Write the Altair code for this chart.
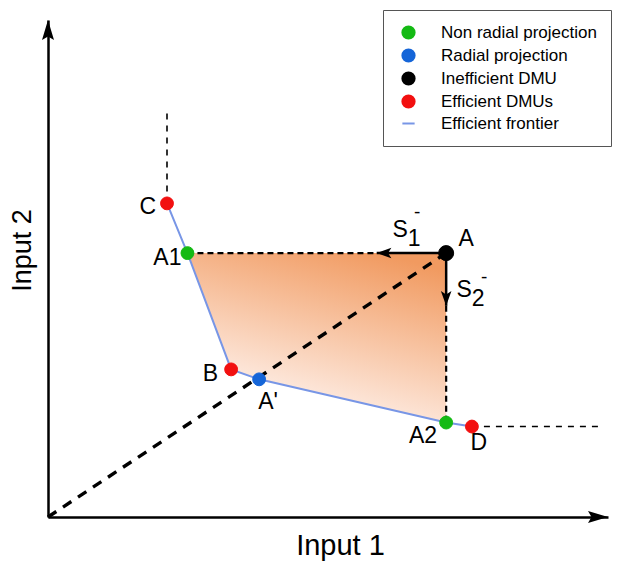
import altair as alt
import pandas as pd

FONT = "Liberation Sans"

# DMUs and projections: (Input 1, Input 2)
names = ["C", "A1", "B", "A'", "A2", "D", "A"]
input1 = [2.125, 2.49, 3.27, 3.77, 7.11, 7.57, 7.11]
input2 = [6.31, 5.31, 2.97, 2.77, 1.90, 1.82, 5.31]
kinds = ["Efficient DMUs", "Non radial projection", "Efficient DMUs", "Radial projection",
         "Non radial projection", "Efficient DMUs", "Inefficient DMU"]

legend_labels = ["Non radial projection", "Radial projection", "Inefficient DMU",
                 "Efficient DMUs", "Efficient frontier"]
legend_colors = ["#14BA14", "#1565D8", "#000000", "#F21010", "#7896E6"]
legend_shapes = ["circle", "circle", "circle", "circle", "stroke"]

frontier = ["C", "A1", "B", "A'", "A2", "D"]
shaded_lower = ["A1", "B", "A'", "A2"]
c_extension_top = 8.13
d_extension_right = 9.82
s1_tip = 5.87
s2_tip = 4.25
axis_max = 10

def pt(n):
    i = names.index(n)
    return input1[i], input2[i]

ax, ay = pt("A")

xscale = alt.Scale(domain=[0, axis_max], nice=False, zero=False)
yscale = alt.Scale(domain=[0, axis_max], nice=False, zero=False)
xaxis = alt.Axis(title="Input 1", titleFont=FONT, titleFontSize=29, titleFontWeight="normal",
                 titleColor="black", titleX=292, titleY=37, titleBaseline="alphabetic",
                 titleAlign="center", titleAngle=0, domainColor="black", domainWidth=2.5,
                 ticks=False, labels=False, grid=False)
yaxis = alt.Axis(title="Input 2", titleFont=FONT, titleFontSize=27, titleFontWeight="normal",
                 titleColor="black", titleX=-18, titleY=230, titleBaseline="alphabetic",
                 titleAlign="center", titleAngle=270, domainColor="black", domainWidth=2.5,
                 ticks=False, labels=False, grid=False)

def X(f):
    return alt.X(f, type="quantitative", scale=xscale, axis=xaxis)

def Y(f):
    return alt.Y(f, type="quantitative", scale=yscale, axis=yaxis)

# shaded region between the frontier and the non-radial projections of A
area_df = pd.DataFrame({"x": [pt(n)[0] for n in shaded_lower],
                        "top": [ay] * len(shaded_lower),
                        "bottom": [pt(n)[1] for n in shaded_lower]})
grad = alt.LinearGradient(gradient="linear", x1=0.75, y1=0, x2=0.35, y2=0.95,
                          stops=[alt.GradientStop(color="#F19A60", offset=0),
                                 alt.GradientStop(color="#FFF5F1", offset=1)])
area = alt.Chart(area_df).mark_area(color=grad, interpolate="linear").encode(
    x=X("x"), y=Y("top"), y2="bottom")

front_df = pd.DataFrame({"x": [pt(n)[0] for n in frontier], "y": [pt(n)[1] for n in frontier],
                         "o": list(range(len(frontier)))})
front = alt.Chart(front_df).mark_line(color="#7896E6", strokeWidth=2).encode(
    x=X("x"), y=Y("y"), order="o:Q")

def seg(x1, y1, x2, y2, **kw):
    d = pd.DataFrame({"x": [x1], "y": [y1], "x2": [x2], "y2": [y2]})
    return alt.Chart(d).mark_rule(**kw).encode(x=X("x"), y=Y("y"), x2="x2", y2="y2")

cx, cy = pt("C")
dx_, dy_ = pt("D")
a1x, a1y = pt("A1")
a2x, a2y = pt("A2")

thin_dash = dict(color="black", strokeWidth=1.6, strokeDash=[6, 6])
mid_dash = dict(color="black", strokeWidth=2.2, strokeDash=[6, 4])
radial_dash = dict(color="black", strokeWidth=3.4, strokeDash=[10, 8])

lines = [
    seg(cx, cy, cx, c_extension_top, **thin_dash),
    seg(dx_, dy_, d_extension_right, dy_, **thin_dash),
    seg(a1x, ay, s1_tip, ay, **mid_dash),
    seg(ax, s2_tip, ax, a2y, **mid_dash),
    seg(0, 0, ax, ay, **radial_dash),
    seg(ax, ay, s1_tip, ay, color="black", strokeWidth=2.5),
    seg(ax, ay, ax, s2_tip, color="black", strokeWidth=2.5),
]

BIG_HEAD = "M0,0 L0.6,2 L0,1.65 L-0.6,2 Z"
SMALL_HEAD = "M0,0 L0.72,2 L0,1.55 L-0.72,2 Z"

def head(x, y, angle, shape, size):
    d = pd.DataFrame({"x": [x], "y": [y]})
    return alt.Chart(d).mark_point(shape=shape, size=size, angle=angle, filled=True,
                                   color="black", opacity=1, strokeWidth=0).encode(
        x=X("x"), y=Y("y"))

heads = [
    head(axis_max, 0, 90, BIG_HEAD, 400),
    head(0, axis_max, 0, BIG_HEAD, 400),
    head(s1_tip, ay, 270, SMALL_HEAD, 215),
    head(ax, s2_tip, 180, SMALL_HEAD, 215),
]

pts_df = pd.DataFrame({"x": input1, "y": input2, "name": names, "series": kinds})
leg = alt.Legend(title=None, orient="none", legendX=335, legendY=-10,
                 direction="vertical", labelFont=FONT, labelFontSize=17,
                 labelColor="black", symbolSize=150, symbolOpacity=1, symbolStrokeWidth=2,
                 strokeColor="#555555", fillColor="white", padding=14, symbolOffset=3,
                 rowPadding=2, labelOffset=24, labelLimit=400)
fill = alt.Fill("series:N", scale=alt.Scale(domain=legend_labels, range=legend_colors), legend=leg)
stroke = alt.Stroke("series:N", scale=alt.Scale(domain=legend_labels, range=legend_colors), legend=leg)
shape = alt.Shape("series:N", scale=alt.Scale(domain=legend_labels, range=legend_shapes), legend=leg)

pts = alt.Chart(pts_df).transform_filter(alt.datum.name != "A").mark_point(
    filled=True, opacity=1, size=165, strokeWidth=1).encode(
    x=X("x"), y=Y("y"), fill=fill, stroke=stroke, shape=shape)
pt_a = alt.Chart(pts_df).transform_filter(alt.datum.name == "A").mark_point(
    filled=True, opacity=1, size=225, strokeWidth=1).encode(
    x=X("x"), y=Y("y"), fill=fill, stroke=stroke, shape=shape)

def label(text, at, dx, dy, align="center", size=23):
    x, y = pt(at)
    d = pd.DataFrame({"x": [x], "y": [y], "t": [text]})
    return alt.Chart(d).mark_text(align=align, baseline="middle", dx=dx, dy=dy,
                                  fontSize=size, font=FONT, color="black").encode(
        x=X("x"), y=Y("y"), text="t:N")

labels = [
    label("C", "C", -11, 4, "right"),
    label("A1", "A1", -6, 5, "right"),
    label("B", "B", -13, 5, "right"),
    label("A'", "A'", 9, 23),
    label("A2", "A2", -9, 13, "right"),
    label("D", "D", 7, 16),
    label("A", "A", 20, -14),
    label("S", "A", -46, -23),
    label("1", "A", -32, -14),
    label("-", "A", -29, -41, size=19),
    label("S", "A", 18, 37),
    label("2", "A", 32, 46),
    label("-", "A", 38, 24, size=19),
]

chart = alt.layer(area, front, *lines, *heads, pts, pt_a, *labels).properties(
    width=560, height=497,
    padding={"left": 40, "top": 12, "right": 9, "bottom": 44},
    autosize=alt.AutoSizeParams(type="none"),
    background="white",
).configure_view(stroke=None)

chart.save("out.html", embed_options={"renderer": "svg", "actions": False})
